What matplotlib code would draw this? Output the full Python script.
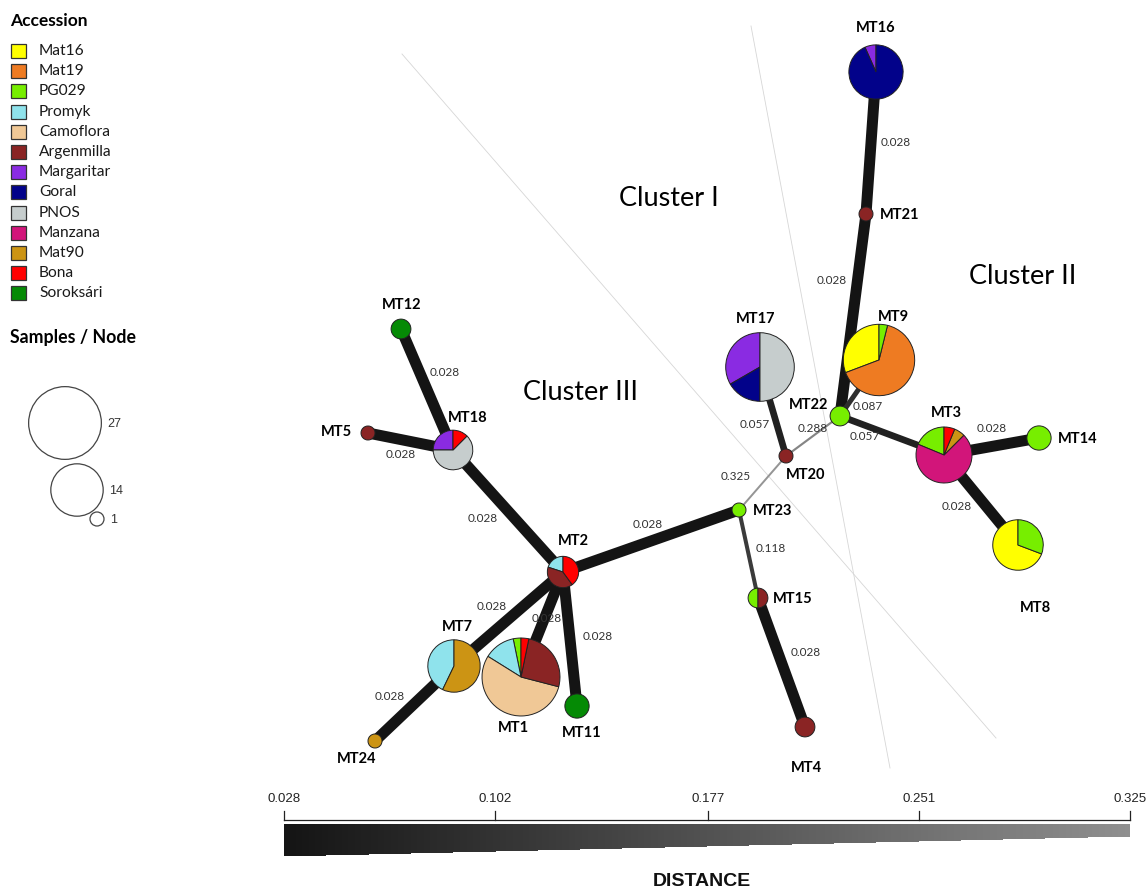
import matplotlib
matplotlib.use("Agg")
import matplotlib.pyplot as plt
import numpy as np
from matplotlib.colors import LinearSegmentedColormap, to_rgb
from matplotlib.patches import Circle, Polygon, Rectangle

# accessions (legend order = slice order in every pie)
accessions = ["Mat16", "Mat19", "PG029", "Promyk", "Camoflora", "Argenmilla",
              "Margaritar", "Goral", "PNOS", "Manzana", "Mat90", "Bona", "Soroksári"]
acc_colors = ["#ffff00", "#ee7b22", "#77ee00", "#8fe3ec", "#f0c896", "#8a2424",
              "#8a2be2", "#02028a", "#c6cdcd", "#d2157a", "#cc9414", "#ff0000", "#058a05"]

# haplotypes and how many samples of each accession they hold
haplotypes = ["MT1", "MT2", "MT3", "MT4", "MT5", "MT7", "MT8", "MT9", "MT11", "MT12",
              "MT14", "MT15", "MT16", "MT17", "MT18", "MT20", "MT21", "MT22", "MT23", "MT24"]
composition = [
    {"PG029": 1, "Promyk": 4, "Camoflora": 17, "Argenmilla": 8, "Bona": 1},
    {"Promyk": 1, "Argenmilla": 2, "Bona": 2},
    {"PG029": 3, "Manzana": 11, "Mat90": 1, "Bona": 1},
    {"Argenmilla": 2},
    {"Argenmilla": 1},
    {"Promyk": 6, "Mat90": 8},
    {"Mat16": 9, "PG029": 4},
    {"Mat16": 8, "Mat19": 17, "PG029": 1},
    {"Soroksári": 3},
    {"Soroksári": 2},
    {"PG029": 3},
    {"PG029": 1, "Argenmilla": 1},
    {"Margaritar": 1, "Goral": 14},
    {"Margaritar": 8, "Goral": 4, "PNOS": 12},
    {"Margaritar": 2, "PNOS": 5, "Bona": 1},
    {"Argenmilla": 1},
    {"Argenmilla": 1},
    {"PG029": 2},
    {"PG029": 1},
    {"Mat90": 1},
]

# minimum spanning network links and their distances
edges = [("MT16", "MT21", 0.028), ("MT21", "MT22", 0.028), ("MT22", "MT9", 0.087),
         ("MT22", "MT3", 0.057), ("MT22", "MT20", 0.288), ("MT20", "MT17", 0.057),
         ("MT20", "MT23", 0.325), ("MT23", "MT2", 0.028), ("MT23", "MT15", 0.118),
         ("MT15", "MT4", 0.028), ("MT3", "MT14", 0.028), ("MT3", "MT8", 0.028),
         ("MT2", "MT18", 0.028), ("MT18", "MT12", 0.028), ("MT18", "MT5", 0.028),
         ("MT2", "MT7", 0.028), ("MT7", "MT24", 0.028), ("MT2", "MT1", 0.028),
         ("MT2", "MT11", 0.028)]

scale_ticks = [0.028, 0.102, 0.177, 0.251, 0.325]
size_keys = [27, 14, 1]

# layout (pixel space)
node_xy = {"MT1": (521, 677), "MT2": (563, 572), "MT3": (944, 455), "MT4": (805, 727),
           "MT5": (368, 433), "MT7": (454, 666), "MT8": (1018, 545), "MT9": (879, 360),
           "MT11": (577, 706), "MT12": (401, 329), "MT14": (1039, 438), "MT15": (758, 598),
           "MT16": (876, 72), "MT17": (760, 367), "MT18": (453, 450), "MT20": (786, 456),
           "MT21": (866, 214), "MT22": (840, 416), "MT23": (739, 510), "MT24": (375, 741)}
label_xy = {"MT1": (513, 728, "center"), "MT2": (573, 541, "center"), "MT3": (946, 413, "center"),
            "MT4": (806, 768, "center"), "MT5": (336, 432, "center"), "MT7": (457, 627, "center"),
            "MT8": (1035, 608, "center"), "MT9": (893, 317, "center"), "MT11": (582, 733, "center"),
            "MT12": (402, 305, "center"), "MT14": (1058, 439, "left"), "MT15": (773, 599, "left"),
            "MT16": (876, 28, "center"), "MT17": (756, 319, "center"), "MT18": (468, 418, "center"),
            "MT20": (786, 475, "left"), "MT21": (880, 215, "left"), "MT22": (809, 405, "center"),
            "MT23": (753, 511, "left"), "MT24": (357, 759, "center")}
dist_label_xy = [(896, 142), (832, 281), (868, 407), (865, 437), (813, 428), (755, 425),
                 (736, 476), (648, 525), (771, 548), (806, 652), (992, 429), (957, 506),
                 (483, 518), (445, 372), (401, 455), (492, 607), (390, 697), (547, 619),
                 (598, 637)]

TXT = ["Lato", "DejaVu Sans"]
d_lo, d_hi = scale_ticks[0], scale_ticks[-1]
dark, light = np.array(to_rgb("#141414")), np.array(to_rgb("#959595"))


def node_radius(n):
    return 7.0 * np.sqrt(n)


def edge_style(d):
    t = (d - d_lo) / (d_hi - d_lo)
    width_px = 11.0 * (d_lo / d) ** 0.7
    return width_px * 0.72, tuple(dark + t * (light - dark))


fig = plt.figure(figsize=(11.48, 8.92), dpi=100)
ax = fig.add_axes([0, 0, 1, 1])

# cluster dividers
ax.plot([402, 996], [54, 738], color="#d6d6d6", lw=0.6, zorder=0)
ax.plot([751, 890], [26, 768], color="#d6d6d6", lw=0.6, zorder=0)
ax.text(619, 198, "Cluster I", fontsize=19.5, family=TXT, va="center", ha="left")
ax.text(969, 277, "Cluster II", fontsize=19.5, family=TXT, va="center", ha="left")
ax.text(523, 392, "Cluster III", fontsize=19.5, family=TXT, va="center", ha="left")

# links
for (a, b, d), (lx, ly) in zip(edges, dist_label_xy):
    lw, col = edge_style(d)
    (x1, y1), (x2, y2) = node_xy[a], node_xy[b]
    ax.plot([x1, x2], [y1, y2], color=col, lw=lw, solid_capstyle="butt", zorder=1)
    ax.text(lx, ly, f"{d:.3f}", fontsize=8.5, family=TXT, color="#333333",
            ha="center", va="center", zorder=2)

# haplotype pies (y axis is flipped, so clockwise in data = anticlockwise on screen)
for name, comp in zip(haplotypes, composition):
    counts = [comp.get(acc, 0) for acc in accessions]
    keep = [i for i, c in enumerate(counts) if c > 0]
    r = node_radius(sum(counts))
    wedges, _ = ax.pie([counts[i] for i in keep], colors=[acc_colors[i] for i in keep],
                       center=node_xy[name], radius=r, startangle=-90, counterclock=False,
                       frame=True, wedgeprops=dict(edgecolor="#222222", linewidth=0.7))
    for w in wedges:
        w.set_zorder(3)
    lx, ly, ha = label_xy[name]
    ax.text(lx, ly, name, fontsize=10.5, fontweight="bold", family=TXT,
            ha=ha, va="center", zorder=4)

# accession legend
ax.text(10, 21, "Accession", fontsize=12.5, fontweight="bold", family=TXT, va="center")
for i, (acc, col) in enumerate(zip(accessions, acc_colors)):
    y = 51 + i * 20.2
    ax.add_patch(Rectangle((11, y - 7), 15, 14, facecolor=col, edgecolor="#333333", lw=0.9))
    ax.text(39, y, acc, fontsize=11.2, family=TXT, va="center", color="#1a1a1a")

# node size key
ax.text(10, 338, "Samples / Node", fontsize=12.8, fontweight="bold", family=TXT, va="center")
for n, (cx, cy) in zip(size_keys, [(65, 423), (77, 490), (97, 519)]):
    r = node_radius(n)
    ax.add_patch(Circle((cx, cy), r, facecolor="none", edgecolor="#444444", lw=0.9))
    ax.text(cx + r + 6, cy + 1, str(n), fontsize=9, family=["Liberation Sans"], va="center",
            color="#333333")

# distance scale
x0, x1 = 284, 1130


def to_x(d):
    return x0 + (d - d_lo) / (d_hi - d_lo) * (x1 - x0)


ax.plot([x0, x1], [820, 820], color="#222222", lw=0.9)
for d in scale_ticks:
    ax.plot([to_x(d)] * 2, [811, 820], color="#222222", lw=0.9)
    ax.text(to_x(d), 799, f"{d:.3f}", fontsize=9.5, family=["Liberation Sans"],
            ha="center", va="center", color="#222222")

steps = np.linspace(x0, x1, 21)
bottoms = np.linspace(856, 837, 20)
poly = [(x0, 824), (x1, 824)]
for k in range(19, -1, -1):
    poly += [(steps[k + 1], bottoms[k]), (steps[k], bottoms[k])]
clip = Polygon(poly, closed=True, facecolor="none", edgecolor="none")
ax.add_patch(clip)
cmap = LinearSegmentedColormap.from_list("dist", ["#151515", "#8f8f8f"])
img = ax.imshow(np.linspace(0, 1, 256)[None, :], cmap=cmap, aspect="auto",
                extent=(x0, x1, 857, 824), interpolation="bilinear")
img.set_clip_path(clip)

ax.text(702, 882, "DISTANCE", fontsize=14, fontweight="bold",
        family=["Liberation Sans Narrow", "Liberation Sans"], ha="center", va="center",
        color="#111111")

ax.set_xlim(0, 1148)
ax.set_ylim(892, 0)
ax.set_aspect("auto")
ax.axis("off")
fig.savefig("out.png", dpi=100, facecolor="white")
